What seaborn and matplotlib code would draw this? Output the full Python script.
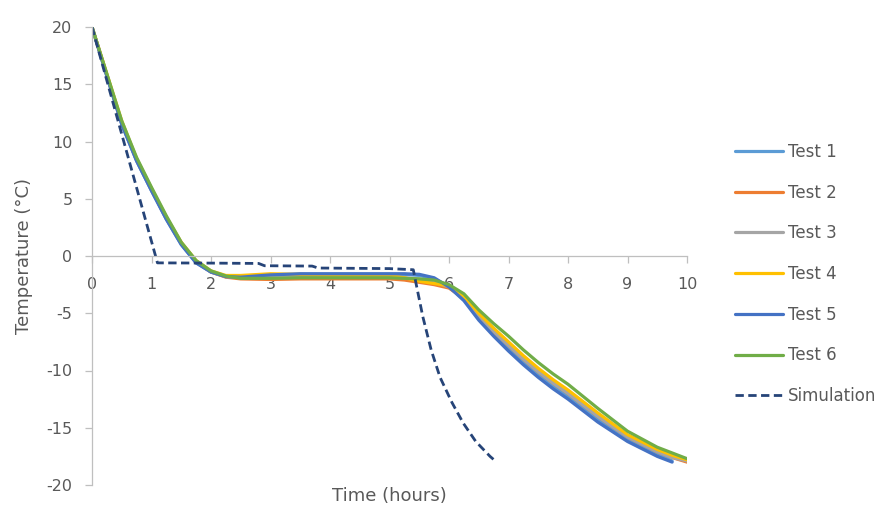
import matplotlib
matplotlib.use("Agg")
import matplotlib.pyplot as plt
import seaborn as sns
import pandas as pd

# ---- data ----
time_h = [0, 0.25, 0.5, 0.75, 1.0, 1.25, 1.5, 1.75, 2.0, 2.25, 2.5, 3.0, 3.5, 4.0, 4.5,
          5.0, 5.25, 5.5, 5.75, 6.0, 6.25, 6.5, 6.75, 7.0, 7.25, 7.5, 7.75, 8.0, 8.5,
          9.0, 9.5, 9.75, 10.0]

test1 = [20, 15.7, 11.5, 8.3, 5.7, 3.2, 1.0, -0.6, -1.4, -1.8, -1.85, -1.7, -1.6, -1.6, -1.6,
         -1.6, -1.6, -1.7, -2.0, -2.7, -3.8, -5.4, -6.8, -8.1, -9.3, -10.4, -11.4, -12.3, -14.3,
         -16.0, -17.3, -17.9, None]
test2 = [20, 15.8, 11.6, 8.4, 5.8, 3.3, 1.1, -0.5, -1.4, -1.85, -2.0, -2.05, -2.0, -2.0, -2.0,
         -2.0, -2.1, -2.3, -2.5, -2.8, -3.7, -5.2, -6.6, -7.8, -9.0, -10.1, -11.1, -12.0, -14.0,
         -15.8, -17.1, -17.6, -18.0]
test3 = [20, 15.8, 11.6, 8.4, 5.8, 3.3, 1.1, -0.5, -1.4, -1.8, -1.9, -1.85, -1.8, -1.8, -1.8,
         -1.8, -1.9, -2.0, -2.3, -2.7, -3.7, -5.2, -6.6, -7.8, -9.0, -10.1, -11.1, -12.0, -14.0,
         -15.8, -17.1, -17.6, -17.9]
test4 = [20, 15.9, 11.8, 8.5, 5.9, 3.4, 1.2, -0.4, -1.3, -1.7, -1.7, -1.55, -1.6, -1.7, -1.7,
         -1.7, -1.9, -2.2, -2.4, -2.6, -3.5, -5.0, -6.3, -7.5, -8.7, -9.8, -10.8, -11.7, -13.7,
         -15.6, -16.9, -17.4, -17.8]
test5 = [20, 15.7, 11.5, 8.3, 5.7, 3.2, 1.0, -0.6, -1.4, -1.8, -1.85, -1.65, -1.55, -1.55, -1.55,
         -1.55, -1.55, -1.6, -1.9, -2.7, -3.9, -5.6, -7.0, -8.3, -9.5, -10.6, -11.6, -12.5, -14.5,
         -16.2, -17.5, -18.0, None]
test6 = [20, 15.9, 11.8, 8.6, 6.0, 3.5, 1.2, -0.4, -1.3, -1.75, -1.95, -1.95, -1.9, -1.9, -1.9,
         -1.9, -1.95, -2.0, -2.1, -2.5, -3.3, -4.7, -5.9, -7.0, -8.2, -9.3, -10.3, -11.2, -13.3,
         -15.3, -16.7, -17.2, -17.7]

sim_time = [0, 1.1, 2.0, 2.8, 2.9, 3.7, 3.8, 5.0, 5.4, 5.45, 5.56, 5.7, 5.85, 6.05, 6.24, 6.45, 6.69, 6.8]
sim_temp = [20, -0.6, -0.62, -0.65, -0.85, -0.88, -1.05, -1.1, -1.2, -2.5, -5.3, -8.2, -10.6, -12.8, -14.6, -16.2, -17.5, -18.0]

series_names = ["Test 1", "Test 2", "Test 3", "Test 4", "Test 5", "Test 6"]
series_vals = [test1, test2, test3, test4, test5, test6]
colors = ["#5B9BD5", "#ED7D31", "#A5A5A5", "#FFC000", "#4472C4", "#70AD47"]
sim_color = "#264478"

x_ticks = list(range(0, 11))
y_ticks = list(range(-20, 25, 5))

# ---- plot ----
sns.set_theme(style="white")
plt.rcParams['font.family'] = ['DejaVu Sans']
plt.rcParams['axes.unicode_minus'] = False
text_color = "#595959"
axis_color = "#BFBFBF"

fig = plt.figure(figsize=(8.86, 5.13), dpi=100)
ax = fig.add_axes([92/886, 1-485/513, (687-92)/886, (485-27)/513])

for name, vals, c in zip(series_names, series_vals, colors):
    df = pd.DataFrame({"t": time_h, "T": vals}).dropna()
    sns.lineplot(data=df, x="t", y="T", ax=ax, color=c, linewidth=2.3, sort=False,
                 label=name, solid_capstyle="round", solid_joinstyle="round")
dfs = pd.DataFrame({"t": sim_time, "T": sim_temp})
sns.lineplot(data=dfs, x="t", y="T", ax=ax, color=sim_color, linewidth=2.0, sort=False,
             label="Simulation", linestyle=(0, (3, 1.6)))

ax.set_xlim(0, 10)
ax.set_ylim(-20, 20)
ax.set_xticks(x_ticks)
ax.set_yticks(y_ticks)

for s in ["top", "right"]:
    ax.spines[s].set_visible(False)
ax.spines["left"].set_color(axis_color)
ax.spines["bottom"].set_color(axis_color)
ax.spines["bottom"].set_position(("data", 0))
ax.spines["left"].set_linewidth(0.9)
ax.spines["bottom"].set_linewidth(0.9)

ax.tick_params(axis="both", which="major", length=5, width=0.9, color=axis_color,
               labelcolor=text_color, labelsize=11.5, direction="out")
ax.tick_params(axis="x", bottom=True, pad=10)
ax.tick_params(axis="y", left=True, pad=9)

ax.set_xlabel("Time (hours)", color=text_color, fontsize=13)
ax.set_ylabel("Temperature (°C)", color=text_color, fontsize=13)
ax.xaxis.set_label_coords(0.5, -(487-485)/458)
ax.yaxis.set_label_coords(-(92-33)/595, 0.5)

leg = ax.legend(loc="upper left", bbox_to_anchor=(735/886, 1-143/513), bbox_transform=fig.transFigure,
                frameon=False, fontsize=12, labelspacing=1.36, handlelength=2.9, handletextpad=0.25,
                borderaxespad=0, borderpad=0)
for t in leg.get_texts():
    t.set_color(text_color)

fig.savefig("out.png", dpi=100)
